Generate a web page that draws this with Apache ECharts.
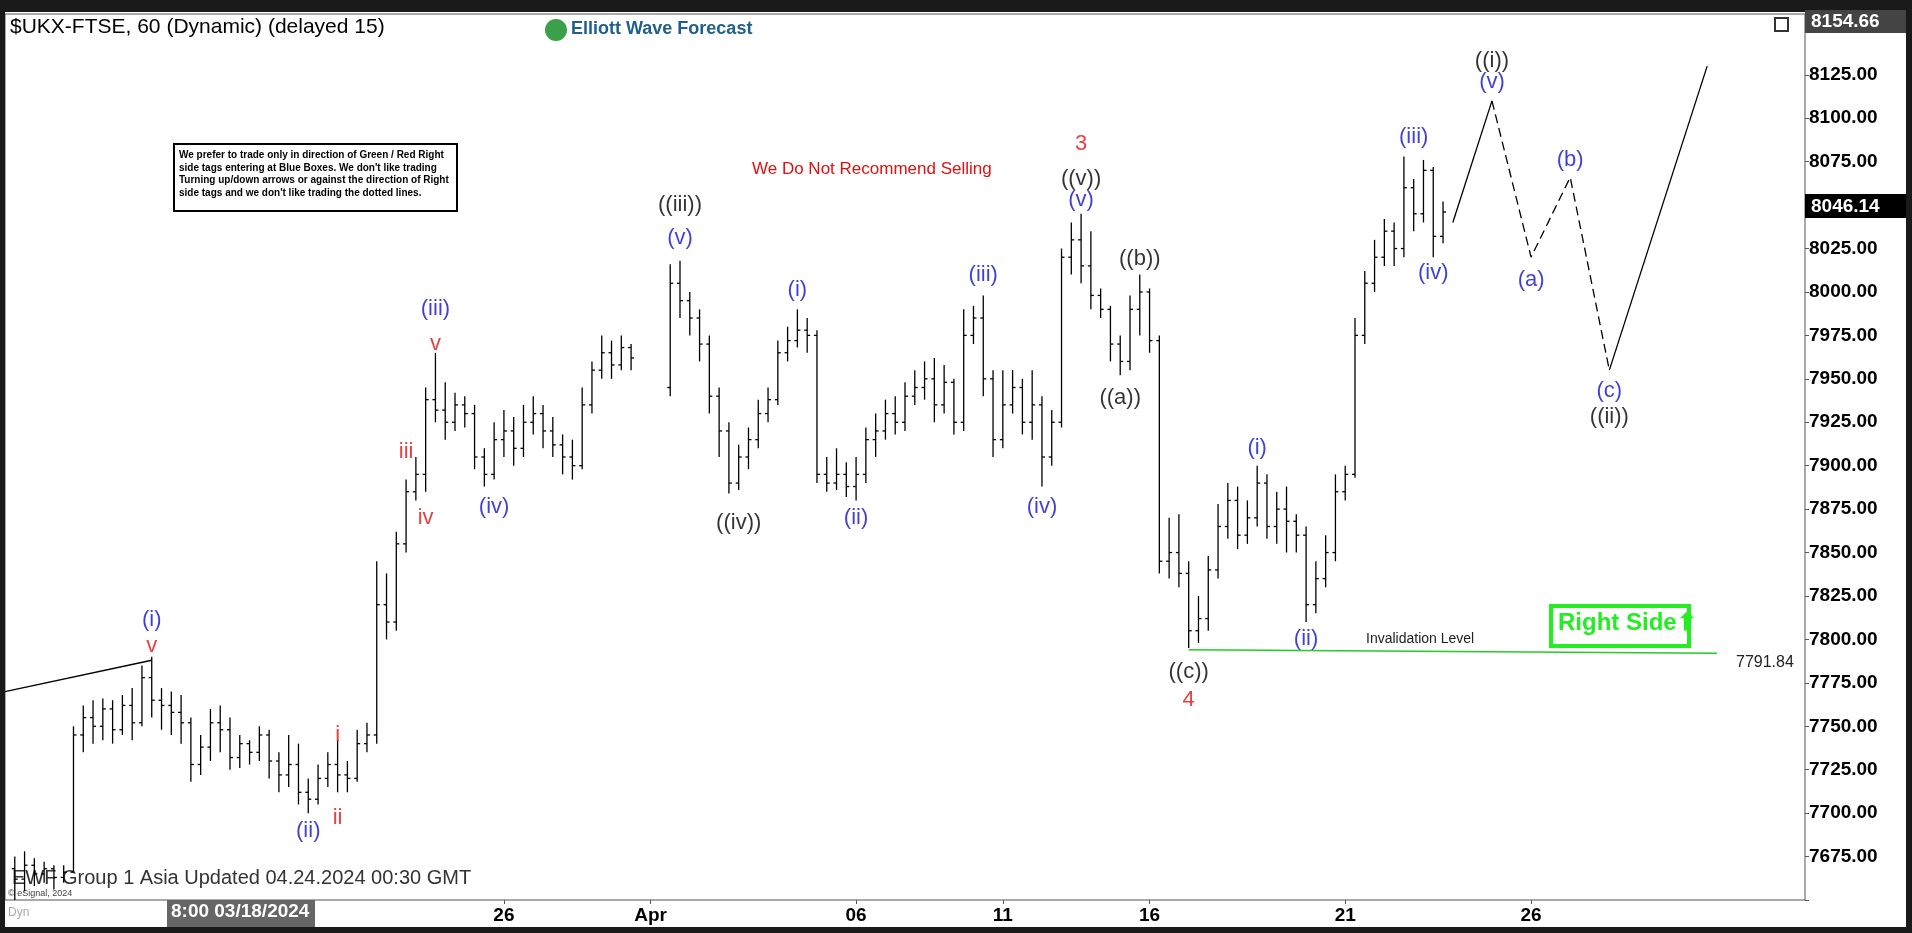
<!DOCTYPE html>
<html>
<head>
<meta charset="utf-8">
<script src="https://cdn.jsdelivr.net/npm/echarts@6/dist/echarts.min.js"></script>
<style>html,body{margin:0;padding:0;background:#fff}#main{width:1912px;height:933px}</style>
</head>
<body>
<div id="main"></div>
<script>
// hourly bars, [open, close, low, high]; '-' = no trading
var bars = [
  '-',
  [7668,7662,7650,7675],[7662,7670,7655,7678],[7670,7665,7658,7674],[7665,7668,7660,7672],
  [7668,7663,7656,7670],[7663,7666,7660,7670],[7666,7745,7666,7750],[7745,7755,7735,7762],
  [7755,7750,7740,7765],[7750,7760,7742,7766],[7760,7748,7740,7765],[7748,7762,7745,7768],
  [7762,7752,7742,7772],[7752,7778,7750,7785],[7778,7765,7755,7790],[7765,7762,7748,7772],
  [7762,7758,7745,7770],[7758,7752,7740,7768],[7752,7728,7718,7755],[7728,7738,7722,7745],
  [7738,7752,7730,7760],[7752,7748,7735,7762],[7748,7732,7725,7755],[7732,7740,7726,7745],
  [7740,7735,7728,7742],[7735,7745,7730,7750],[7745,7730,7720,7748],[7730,7722,7712,7735],
  [7722,7728,7715,7745],[7728,7712,7705,7740],[7712,7708,7700,7720],[7708,7720,7705,7728],
  [7720,7728,7715,7735],[7728,7722,7712,7742],[7722,7720,7712,7730],[7720,7740,7718,7748],
  [7740,7745,7735,7752],[7745,7820,7740,7845],[7820,7810,7800,7838],[7810,7855,7805,7862],
  [7855,7885,7850,7892],[7885,7895,7880,7905],[7895,7938,7885,7945],[7938,7932,7925,7965],
  [7932,7925,7915,7948],[7925,7935,7920,7942],[7935,7930,7922,7940],[7930,7905,7898,7935],
  [7905,7895,7888,7910],[7895,7915,7892,7925],[7915,7920,7905,7932],[7920,7910,7900,7928],
  [7910,7925,7905,7935],[7925,7930,7918,7940],[7930,7920,7910,7935],[7920,7912,7905,7928],
  [7912,7905,7895,7918],[7905,7900,7892,7915],[7900,7935,7898,7945],[7935,7955,7930,7960],
  [7955,7965,7950,7975],[7965,7958,7950,7972],[7958,7968,7955,7975],[7968,7962,7955,7970],
  '-','-','-',
  [7945,8005,7940,8016],[8005,7995,7985,8018],[7995,7985,7975,8000],[7985,7970,7960,7990],
  [7970,7940,7930,7975],[7940,7920,7905,7945],[7920,7890,7884,7925],[7890,7905,7886,7912],
  [7905,7915,7898,7922],[7915,7930,7910,7938],[7930,7938,7925,7945],[7938,7965,7935,7972],
  [7965,7972,7960,7980],[7972,7978,7968,7990],[7978,7975,7965,7985],[7975,7895,7890,7978],
  [7895,7890,7885,7905],[7890,7895,7886,7910],[7895,7888,7882,7902],[7888,7895,7880,7905],
  [7895,7915,7890,7922],[7915,7920,7905,7930],[7920,7930,7915,7938],[7930,7925,7918,7940],
  [7925,7940,7920,7948],[7940,7945,7935,7955],[7945,7950,7938,7960],[7950,7935,7925,7962],
  [7935,7948,7930,7958],[7948,7925,7918,7950],[7925,7975,7920,7990],[7975,7985,7970,7992],
  [7985,7950,7940,7998],[7950,7915,7905,7955],[7915,7935,7910,7955],[7935,7945,7930,7955],
  [7945,7925,7918,7950],[7925,7935,7915,7955],[7935,7905,7888,7940],[7905,7925,7900,7932],
  [7925,8020,7922,8025],[8020,8030,8010,8040],[8030,8015,8005,8045],[8015,7998,7990,8035],
  [7998,7990,7985,8002],[7990,7970,7960,7992],[7970,7960,7952,7975],[7960,7990,7955,7998],
  [7990,8000,7975,8010],[8000,7972,7965,8002],[7972,7845,7838,7975],[7845,7850,7835,7870],
  [7850,7838,7830,7872],[7838,7805,7795,7845],[7805,7812,7798,7825],[7812,7840,7805,7848],
  [7840,7865,7835,7878],[7865,7880,7858,7890],[7880,7860,7852,7888],[7860,7870,7855,7880],
  [7870,7890,7865,7900],[7890,7865,7858,7895],[7865,7875,7855,7885],[7875,7868,7850,7888],
  [7868,7860,7850,7872],[7860,7820,7810,7865],[7820,7835,7815,7845],[7835,7850,7830,7860],
  [7850,7885,7845,7895],[7885,7895,7880,7900],[7895,7975,7893,7985],[7975,8005,7970,8012],
  [8005,8020,8000,8030],[8020,8035,8015,8042],[8035,8025,8015,8040],[8025,8060,8020,8078],
  [8060,8045,8035,8065],[8045,8070,8040,8076],[8070,8032,8020,8072],[8032,8046,8028,8052]
];
var slotCount = 185;
// projected path [slot, price]
var projSolid1 = [[148,8040],[152,8110]];
var projDashed = [[152,8110],[156,8020],[160,8066],[164,7955]];
var projSolid2 = [[164,7955],[174,8130]];
var startLine = [[0,7770],[15,7788]];
var invalidLine = [[121,7794],[175,7792]];
// x-axis day labels at slot
var dayLabels = {24:'8:00 03/18/2024', 51:'26', 66:'Apr', 87:'06', 102:'11', 117:'16', 137:'21', 156:'26'};
// wave labels [slot, price, text, colour]
var waves = [
  [14.5,7811,'(i)','#1010c8'],[14.5,7796,'v','#e01010'],
  [31,7690,'(ii)','#1010c8'],[34,7745,'i','#e01010'],[34,7697,'ii','#e01010'],
  [41,7908,'iii','#e01010'],[43,7870,'iv','#e01010'],
  [43.5,7990,'(iii)','#1010c8'],[43.5,7970,'v','#e01010'],[49.5,7876,'(iv)','#1010c8'],
  [68.5,8050,'((iii))','#000'],[68.5,8031,'(v)','#1010c8'],[75,7867,'((iv))','#000'],
  [81,8001,'(i)','#1010c8'],[87,7870,'(ii)','#1010c8'],[100,8010,'(iii)','#1010c8'],
  [106,7876,'(iv)','#1010c8'],
  [110,8085,'3','#e01010'],[110,8065,'((v))','#000'],[110,8053,'(v)','#1010c8'],
  [114,7939,'((a))','#000'],[116,8019,'((b))','#000'],
  [121,7781,'((c))','#000'],[121,7765,'4','#e01010'],
  [128,7910,'(i)','#1010c8'],[133,7800,'(ii)','#1010c8'],
  [143.5,8089,'(iii)','#1010c8'],[145.5,8011,'(iv)','#1010c8'],
  [152,8133,'((i))','#000'],[152,8121,'(v)','#1010c8'],
  [156,8007,'(a)','#1010c8'],[159.5,8076,'(b)','#1010c8'],[164,7943,'(c)','#1010c8'],[164,7928,'((ii))','#000']
];

var S = 1912 / 1568;
function p(v){ return Math.round(v * S); }
var cats = [];
for (var i = 0; i < slotCount; i++) cats.push(i);

// OHLC bar: vertical low-high line, open tick left, close tick right
var ohlcData = [];
bars.forEach(function (b, i) { if (b !== '-') ohlcData.push([i, b[0], b[1], b[2], b[3]]); });
function renderOhlc(params, api) {
  var x = api.value(0);
  var o = api.coord([x, api.value(1)]), c = api.coord([x, api.value(2)]);
  var l = api.coord([x, api.value(3)]), h = api.coord([x, api.value(4)]);
  var st = {stroke: '#000', lineWidth: 1.3};
  return {type: 'group', children: [
    {type: 'line', shape: {x1: l[0], y1: l[1], x2: h[0], y2: h[1]}, style: st},
    {type: 'line', shape: {x1: o[0] - 3, y1: o[1], x2: o[0], y2: o[1]}, style: st},
    {type: 'line', shape: {x1: c[0], y1: c[1], x2: c[0] + 3, y2: c[1]}, style: st}
  ]};
}

var font = 'Arial, Liberation Sans';
var chart = echarts.init(document.getElementById('main'));
chart.setOption({
  animation: false,
  backgroundColor: '#fff',
  grid: {left: 5, top: 14, right: 107, bottom: 33, show: true, borderColor: '#555', borderWidth: 1},
  xAxis: {
    type: 'category', data: cats, boundaryGap: false,
    axisLine: {show: false}, splitLine: {show: false},
    axisTick: {show: true, interval: function (i) { return !!dayLabels[i]; }, length: 4, lineStyle: {color: '#555'}},
    axisLabel: {
      interval: 0, fontFamily: font, fontSize: 19, fontWeight: 'bold', color: '#000', margin: 6,
      formatter: function (v) { return dayLabels[v] || ''; }
    }
  },
  yAxis: {
    type: 'value', position: 'right', min: 7650, max: 8160, interval: 25,
    axisLine: {show: false}, axisTick: {show: true, length: 4, lineStyle: {color: '#555'}},
    splitLine: {show: false},
    axisLabel: {
      fontFamily: font, fontSize: 19, fontWeight: 'bold', color: '#000', margin: 4,
      formatter: function (v) { return (v <= 7650 || v > 8140) ? '' : v.toFixed(2); }
    }
  },
  series: [
    {type: 'custom', renderItem: renderOhlc, data: ohlcData, encode: {x: 0, y: [1, 2, 3, 4]}},
    {type: 'line', data: startLine, symbol: 'none', lineStyle: {color: '#000', width: 1.3}},
    {type: 'line', data: projSolid1, symbol: 'none', lineStyle: {color: '#000', width: 1.3}},
    {type: 'line', data: projDashed, symbol: 'none', lineStyle: {color: '#000', width: 1.3, type: [9, 5]}},
    {type: 'line', data: projSolid2, symbol: 'none', lineStyle: {color: '#000', width: 1.3}},
    {type: 'line', data: invalidLine, symbol: 'none', lineStyle: {color: '#22cc22', width: 1.5}},
    {
      type: 'scatter', symbolSize: 0,
      data: waves.map(function (w) { return {value: [w[0], w[1]], label: {formatter: w[2], color: w[3]}}; }),
      label: {show: true, position: 'inside', fontFamily: font, fontSize: 22}
    }
  ],
  graphic: [
    {type: 'rect', shape: {x: 0, y: 0, width: 1912, height: 12}, style: {fill: '#1a1a1a'}},
    {type: 'rect', shape: {x: 0, y: 0, width: 5, height: 933}, style: {fill: '#1a1a1a'}},
    {type: 'rect', shape: {x: 1906, y: 0, width: 6, height: 933}, style: {fill: '#1a1a1a'}},
    {type: 'rect', shape: {x: 0, y: 927, width: 1912, height: 6}, style: {fill: '#1a1a1a'}},
    {type: 'rect', shape: {x: 167, y: 900, width: 148, height: 27}, style: {fill: '#666'}, z: 5},
    {type: 'text', x: 171, y: 902, style: {text: '8:00 03/18/2024', fill: '#fff', font: 'bold 19px ' + font}, z: 6},
    {type: 'text', x: 8, y: 907, style: {text: 'Dyn', fill: '#aaa', font: '12px ' + font}},
    {type: 'rect', shape: {x: 1805, y: 10, width: 101, height: 23}, style: {fill: '#444'}, z: 20},
    {type: 'text', x: 1811, y: 12, style: {text: '8154.66', fill: '#fff', font: 'bold 19px ' + font}, z: 21},
    {type: 'rect', shape: {x: 1805, y: 194, width: 101, height: 24}, style: {fill: '#000'}, z: 20},
    {type: 'text', x: 1811, y: 197, style: {text: '8046.14', fill: '#fff', font: 'bold 19px ' + font}, z: 21},
    {type: 'rect', shape: {x: p(1456), y: p(15), width: p(11), height: p(11)}, style: {fill: '#fff', stroke: '#333', lineWidth: 2}},
    {type: 'text', x: p(8), y: p(14), style: {text: '$UKX-FTSE, 60 (Dynamic) (delayed 15)', fill: '#000', font: '21px ' + font}},
    {type: 'circle', shape: {cx: p(456), cy: p(25), r: 11}, style: {fill: '#3aa04a'}},
    {type: 'text', x: p(468), y: p(16), style: {text: 'Elliott Wave Forecast', fill: '#1f5f8b', font: 'bold 18px ' + font}},
    {type: 'rect', shape: {x: p(143), y: p(118), width: p(232), height: p(55)}, style: {fill: '#fff', stroke: '#000', lineWidth: 2}},
    {type: 'text', x: p(147), y: p(122), style: {
      text: 'We prefer to trade only in direction of Green / Red Right\nside tags entering at Blue Boxes. We don\'t like trading\nTurning up/down arrows or against the direction of Right\nside tags and we don\'t like trading the dotted lines.',
      fill: '#000', font: 'bold 10px ' + font, lineHeight: 12.5}},
    {type: 'text', x: p(617), y: p(132), style: {text: 'We Do Not Recommend Selling', fill: '#e01010', font: '17px Arial Narrow, Liberation Sans Narrow, Arial'}},
    {type: 'rect', shape: {x: p(1272), y: p(497), width: p(113), height: p(33)}, style: {fill: '#fff', stroke: '#22ee22', lineWidth: 4}},
    {type: 'text', x: p(1278), y: p(501), style: {text: 'Right Side\u2b06', fill: '#22ee22', font: 'bold 24px Liberation Sans Narrow, Arial'}},
    {type: 'text', x: p(1120), y: p(518), style: {text: 'Invalidation Level', fill: '#222', font: '14px ' + font}},
    {type: 'text', x: p(1424), y: p(537), style: {text: '7791.84', fill: '#222', font: '16px ' + font}},
    {type: 'text', x: 12, y: 868, style: {text: 'EWF Group 1 Asia Updated 04.24.2024 00:30 GMT', fill: '#333', font: '20px ' + font, textShadowColor: '#999', textShadowOffsetX: 1, textShadowOffsetY: 1}},
    {type: 'text', x: 8, y: 889, style: {text: '\u00a9 eSignal, 2024', fill: '#444', font: '9px ' + font}}
  ]
});
</script>
</body>
</html>
